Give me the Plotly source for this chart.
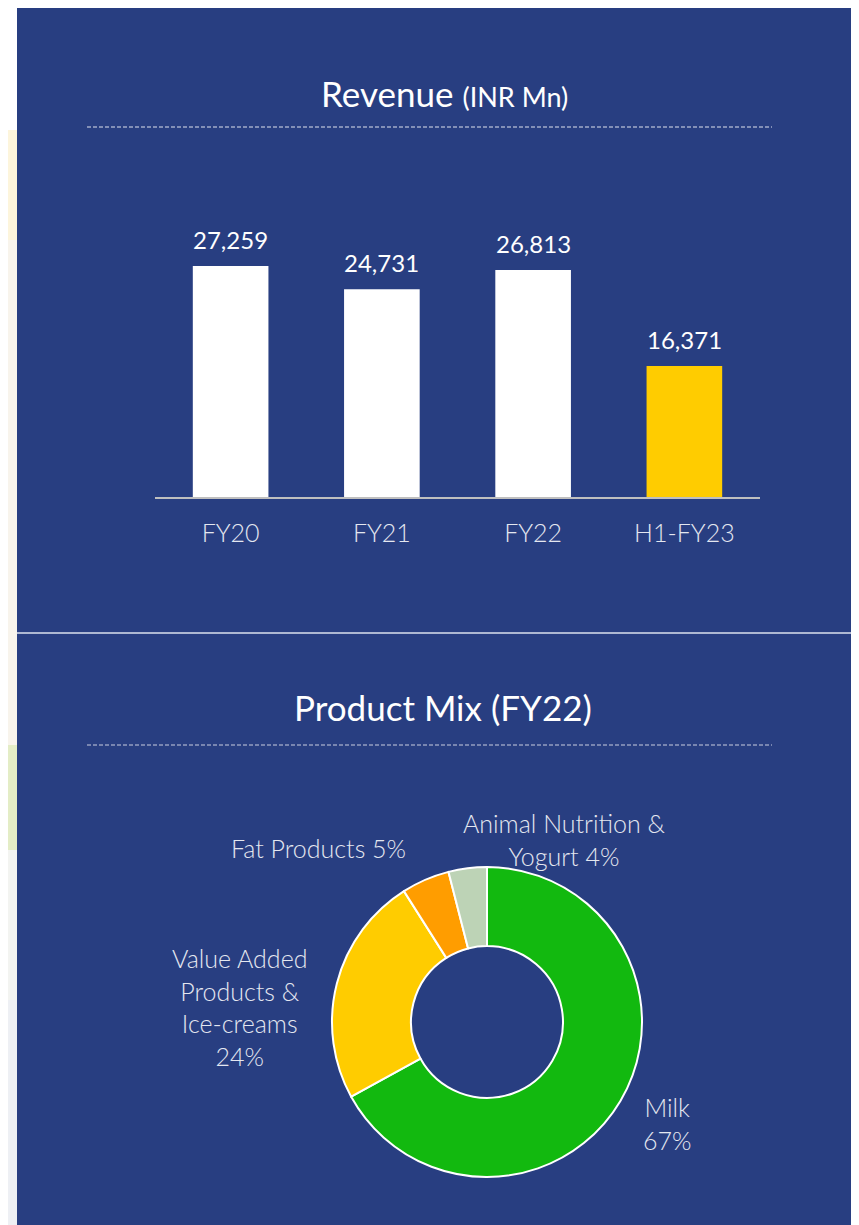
import plotly.graph_objects as go

# revenue data
periodos = ["FY20", "FY21", "FY22", "H1-FY23"]
receita = [27259, 24731, 26813, 16371]
cores_barras = ["#FFFFFF", "#FFFFFF", "#FFFFFF", "#FFCC00"]

# product mix
produtos = ["Milk", "Value Added Products & Ice-creams", "Fat Products", "Animal Nutrition & Yogurt"]
mix_pct = [67, 24, 5, 4]
cores_mix = ["#12B90F", "#FFCC00", "#FF9D00", "#BDD3B6"]
rotulos_mix = ["Milk<br>67%", "Value Added<br>Products &<br>Ice-creams<br>24%",
               "Fat Products 5%", "Animal Nutrition &<br>Yogurt 4%"]

# page body keeps an 8px margin, so the figure is drawn 8px in and sized to fit
OFF = 8
W, H = 859 - OFF, 1225 - OFF
AZUL = "#283E81"
TXT_CLARO = "#E4E7F0"
FONTE = "Lato"


def fx(x):
    return (x - OFF) / W


def fy(y):
    return 1 - (y - OFF) / H


fig = go.Figure()

fig.add_trace(go.Bar(
    x=periodos, y=receita,
    marker=dict(color=cores_barras, line=dict(width=0)),
    hoverinfo="skip", showlegend=False,
))

fig.add_trace(go.Pie(
    labels=produtos, values=mix_pct,
    marker=dict(colors=cores_mix, line=dict(color="#FFFFFF", width=2)),
    hole=0.49, sort=False, direction="clockwise", rotation=0,
    textinfo="none", hoverinfo="skip", showlegend=False,
    domain=dict(x=[fx(332), fx(642)], y=[fy(1177), fy(867)]),
))

# bar value labels
anotacoes = []
for p, v in zip(periodos, receita):
    anotacoes.append(dict(
        x=p, y=v, xref="x", yref="y", text=f"{v:,}", showarrow=False,
        yanchor="bottom", yshift=10,
        font=dict(family=FONTE, size=24, color="#FFFFFF"),
    ))

# titles
anotacoes.append(dict(
    x=fx(444), y=fy(93), xref="paper", yref="paper", showarrow=False,
    xanchor="center", yanchor="middle",
    text="Revenue <span style='font-size:27px'>(INR Mn)</span>",
    font=dict(family=FONTE, size=35, color="#FFFFFF"),
))
anotacoes.append(dict(
    x=fx(443), y=fy(707), xref="paper", yref="paper", showarrow=False,
    xanchor="center", yanchor="middle",
    text="Product Mix (FY22)",
    font=dict(family=FONTE, size=35, color="#FFFFFF"),
))

# pie labels
pos_rotulos = [(667, 1123), (240, 1007), (318, 848), (564, 839)]
for txt, (x, y) in zip(rotulos_mix, pos_rotulos):
    anotacoes.append(dict(
        x=fx(x), y=fy(y), xref="paper", yref="paper", showarrow=False,
        xanchor="center", yanchor="middle",
        text=txt, align="center",
        font=dict(family=FONTE, size=25, color=TXT_CLARO, weight=300),
    ))

# background pieces: left strip, panel, separators
faixa = [(3, 130, "#FFFFFF"), (130, 240, "#FDF5DC"), (240, 745, "#F8F4EC"),
         (745, 850, "#E4EDC6"), (850, 1000, "#F3F4F1"), (1000, 1225, "#EEF0F4")]
formas = []
for y0, y1, cor in faixa:
    formas.append(dict(type="rect", xref="paper", yref="paper", x0=0, x1=fx(17),
                       y0=fy(y1), y1=fy(y0), fillcolor=cor, line=dict(width=0), layer="below"))
formas += [
    dict(type="rect", xref="paper", yref="paper", x0=fx(17), x1=1, y0=0, y1=1,
         fillcolor=AZUL, line=dict(width=0), layer="below"),
    dict(type="line", xref="paper", yref="paper", x0=fx(87), x1=fx(772), y0=fy(127), y1=fy(127),
         line=dict(color="rgba(255,255,255,0.85)", width=1, dash="4px,2px")),
    dict(type="line", xref="paper", yref="paper", x0=fx(87), x1=fx(772), y0=fy(745), y1=fy(745),
         line=dict(color="rgba(255,255,255,0.75)", width=1, dash="4px,2px")),
    dict(type="line", xref="paper", yref="paper", x0=fx(17), x1=1, y0=fy(633), y1=fy(633),
         line=dict(color="#AEB8D2", width=2)),
]

fig.update_layout(
    width=W, height=H, autosize=False,
    margin=dict(l=0, r=0, t=0, b=0),
    paper_bgcolor="#FFFFFF",
    plot_bgcolor="rgba(0,0,0,0)",
    font=dict(family=FONTE, color=TXT_CLARO),
    bargap=0.5,
    annotations=anotacoes,
    shapes=formas,
    xaxis=dict(
        domain=[fx(155), fx(760)],
        showline=True, linecolor="#BFBFBF", linewidth=2,
        showgrid=False, ticks="", ticklabelstandoff=13,
        tickfont=dict(family=FONTE, size=25, color=TXT_CLARO, weight=300),
        fixedrange=True,
    ),
    yaxis=dict(
        domain=[fy(497), fy(160)],
        range=[2100, 2100 + (497 - 160) / 0.009184],
        visible=False, showgrid=False, zeroline=False,
        fixedrange=True,
    ),
)

fig.write_html("out.html")
